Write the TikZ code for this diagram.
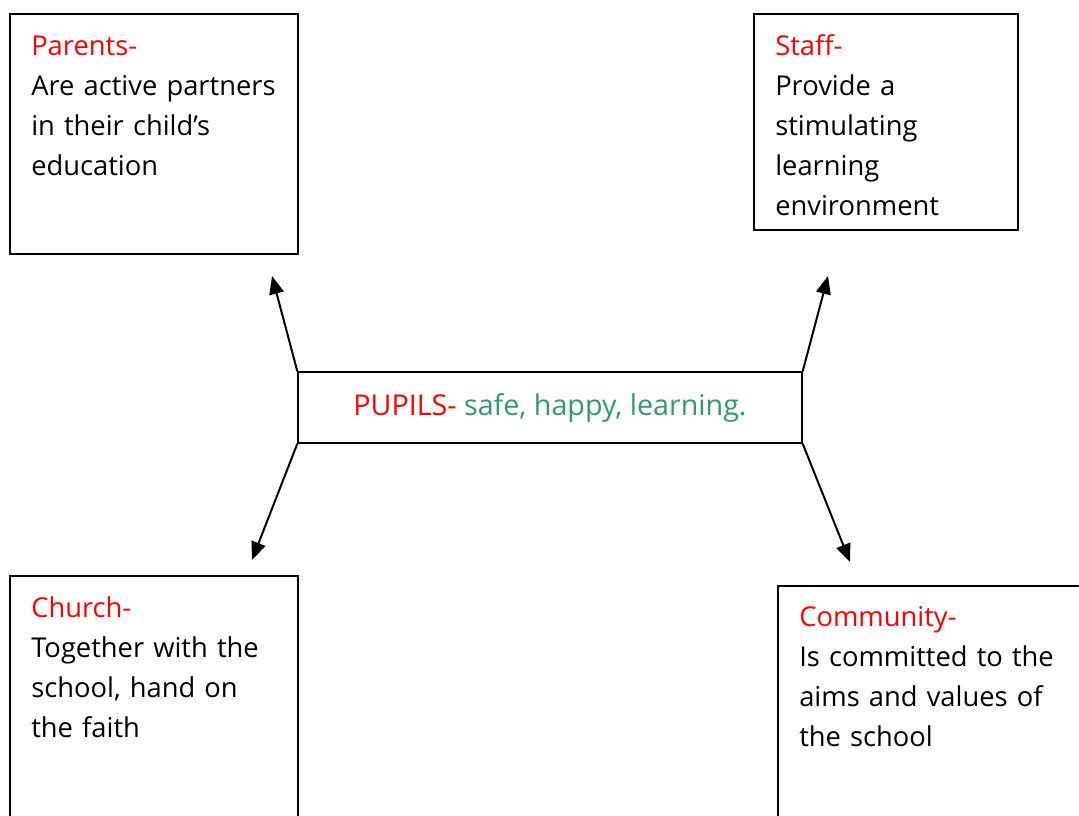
\documentclass[tikz,border=0pt]{standalone}
\usepackage{fontspec}
\setmainfont{Open Sans}
\usetikzlibrary{arrows.meta}

\definecolor{pupilgreen}{RGB}{51,153,102}

\begin{document}
\begin{tikzpicture}[x=0.75pt,y=-0.75pt,
  box/.style={draw, rectangle, line width=1pt, inner sep=0pt},
  txt/.style={anchor=base west, align=left, text width=210pt, inner sep=0pt,
    font=\fontsize{20.5}{30}\selectfont},
  link/.style={draw, line width=1.5pt, -{Triangle[length=13.5pt,width=11pt]}}]
\useasboundingbox (0,0) rectangle (1079,816);
\clip (0,0) rectangle (1079,816);
\node[box, minimum width=216pt, minimum height=180pt] (parents) at (154,134) {};
\node[box, minimum width=198pt, minimum height=162pt] (staff) at (886,122) {};
\node[box, minimum width=378pt, minimum height=53.25pt] (pupils) at (550,407.5) {};
\node[box, minimum width=216pt, minimum height=190.5pt] (church) at (154,703) {};
\node[box, minimum width=241.5pt, minimum height=183pt] (community) at (939,708) {};
\node[txt] (parentsText) at (31,56) {\textcolor{red}{Parents-}\\Are active partners\\in their child’s\\education};
\node[txt] (staffText) at (775,56) {\textcolor{red}{Staff-}\\Provide a\\stimulating\\learning\\environment};
\node[font=\fontsize{21.5}{30}\selectfont] (pupilsText) at (pupils) {\textcolor{red}{PUPILS-} \textcolor{pupilgreen}{safe, happy, learning.}};
\node[txt] (churchText) at (31,618) {\textcolor{red}{Church-}\\Together with the\\school, hand on\\the faith};
\node[txt] (communityText) at (799,627) {\textcolor{red}{Community-}\\Is committed to the\\aims and values of\\the school};
\coordinate (parentsTip) at (272,276);
\coordinate (staffTip) at (828,276);
\coordinate (churchTip) at (252,560);
\coordinate (communityTip) at (850,562);
\path[link] (pupils.north west) -- (parentsTip);
\path[link] (pupils.north east) -- (staffTip);
\path[link] (pupils.south west) -- (churchTip);
\path[link] (pupils.south east) -- (communityTip);
\end{tikzpicture}
\end{document}
